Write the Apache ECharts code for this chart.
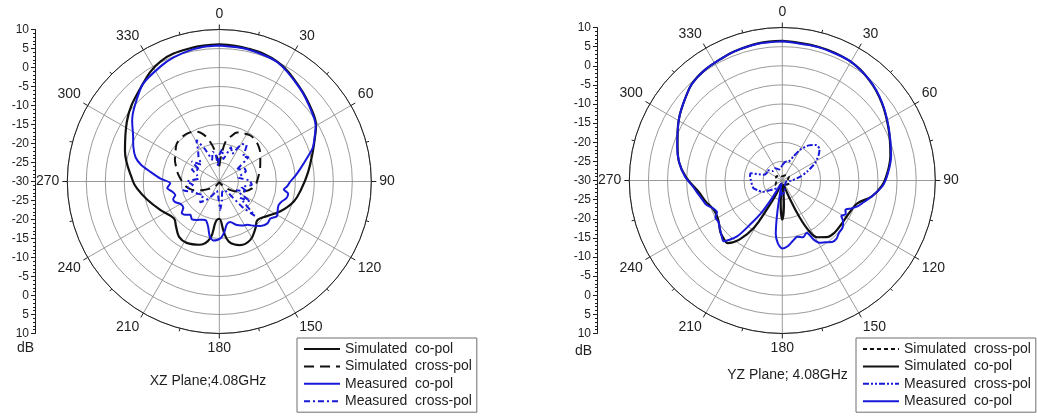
<!DOCTYPE html>
<html>
<head>
<meta charset="utf-8">
<script src="https://cdn.jsdelivr.net/npm/echarts@6.0.0/dist/echarts.min.js"></script>
<style>
  html, body { margin: 0; padding: 0; background: #fff; }
  #xz { position: absolute; left: 0; top: 0; width: 520px; height: 417px; }
  #yz { position: absolute; left: 520px; top: 0; width: 517px; height: 417px; }
</style>
</head>
<body>
<div id="xz"></div>
<div id="yz"></div>
<script>
// dB scale printed beside each polar plot (top -> centre -> bottom)
const dbLabels = ['10','5','0','-5','-10','-15','-20','-25','-30','-25','-20','-15','-10','-5','0','5','10'];

// Series names
const NAMES = {
  simCo: 'Simulated  co-pol',
  simCross: 'Simulated  cross-pol',
  measCo: 'Measured  co-pol',
  measCross: 'Measured  cross-pol'
};

// ---------- XZ plane, 4.08 GHz : [angle (deg), gain (dB)] ----------
const xzSimCo = [[0,6.1],[12,5.8],[26,5.0],[41,2.5],[52,0.8],[60,-0.6],[64,-1.9],[72,-4.1],[84,-6.5],[95,-8.3],[105,-9.7],[116,-12.1],[126,-14.5],[136,-15.7],[142,-14.5],[152,-12.6],[162,-12.4],[171,-14.0],[175,-16.8],[180,-20.2],[185,-19.4],[189,-14.9],[197,-12.6],[208,-11.7],[216,-12.0],[224,-13.6],[231,-14.6],[244,-12.8],[256,-10.4],[265,-8.3],[270,-7.3],[288,-3.9],[303,-1.0],[320,2.2],[334,5.2],[348,5.9],[360,6.1]];

const xzSimCross = [[0,-26],[5,-22.5],[10,-18.8],[15,-17.6],[20,-16.3],[27,-15.8],[34,-15.4],[41,-15.6],[48,-16.1],[56,-17.0],[64,-18.0],[73,-18.8],[85,-19.8],[95,-20.4],[102,-21.2],[110,-22.6],[120,-24.7],[130,-26.8],[140,-28.5],[155,-29.5],[180,-29.8],[205,-29.5],[220,-28.5],[232,-27.0],[242,-25.3],[250,-23.2],[258,-21.7],[265,-20.7],[270,-20.2],[280,-19.0],[288,-18.1],[296,-17.0],[302,-16.4],[310,-15.2],[318,-14.8],[326,-14.8],[334,-15.4],[340,-16.5],[346,-18.8],[352,-22.0],[360,-26]];

const xzMeasCo = [[0,5.8],[12,5.6],[26,4.9],[41,2.4],[52,0.6],[60,-0.7],[64,-2.0],[70,-3.8],[75,-6.1],[81,-8.4],[86,-10.0],[90,-11.3],[94,-12.1],[97,-12.9],[100,-11.6],[104,-11.8],[108,-12.8],[112,-13.2],[116,-12.9],[121,-12.3],[126,-13.4],[131,-13.2],[137,-14.0],[142,-15.2],[147,-16.4],[153,-17.0],[159,-17.8],[165,-19.0],[170,-18.6],[174,-16.8],[178,-15.2],[182,-14.6],[186,-14.4],[190,-15.4],[194,-17.8],[199,-19.2],[204,-19.0],[210,-18.3],[216,-17.7],[221,-18.4],[226,-17.4],[230,-17.1],[234,-18.3],[240,-18.2],[245,-17.2],[249,-17.0],[253,-17.9],[258,-17.3],[263,-16.2],[268,-17.1],[273,-14.4],[278,-11.7],[282,-9.0],[286,-7.1],[292,-5.6],[298,-4.3],[305,-2.0],[312,-0.1],[322,2.6],[333,4.0],[340,4.8],[348,5.4],[355,5.7],[360,5.8]];

const xzMeasCross = [[0,-23],[5,-21.5],[10,-24],[19,-20.5],[25,-22],[31,-18.5],[37,-18],[44,-21],[50,-20],[56,-24.5],[63,-22.5],[69,-22.5],[78,-25],[88,-22],[96,-21.4],[104,-24],[110,-22.2],[117,-25],[123,-20.3],[128,-23],[134,-17],[138,-21],[143,-26.6],[155,-27.5],[166,-27],[172,-25],[178,-22.5],[184,-26],[195,-27.5],[206,-26],[215,-24],[223,-22.5],[230,-24.5],[240,-23.5],[248,-22.7],[256,-20.3],[263,-23],[270,-21.5],[278,-24.5],[286,-23.9],[294,-22],[300,-24],[306,-21],[313,-23.5],[320,-21.5],[326,-20],[331,-17.5],[336,-20.5],[342,-24],[347,-22],[352,-22.5],[356,-26],[360,-23]];

// ---------- YZ plane, 4.08 GHz : [angle (deg), gain (dB)] ----------
const yzSimCross = [[0,-29],[30,-28.4],[60,-28.0],[90,-28.6],[120,-28.2],[150,-28.8],[180,-29.2],[210,-28.4],[240,-28.0],[270,-28.5],[300,-28.1],[330,-28.6],[360,-29]];

const yzSimCo = [[0,6.5],[15,6.2],[29,5.9],[41,4.7],[52,3.0],[64,0.9],[77,-1.0],[86,-2.5],[93,-3.9],[100,-6.2],[107,-9.5],[115,-10.5],[125,-10.8],[135,-10.7],[142,-11.2],[148,-12.5],[152,-15.0],[155,-19.7],[158,-25.5],[164,-29],[172,-28],[176,-24],[180,-19.8],[184,-24],[188,-28],[198,-29],[204,-26],[208,-21.5],[211,-15.5],[216,-10.9],[221,-8.3],[226,-8.5],[230,-8.9],[238,-10.3],[243,-10.6],[248,-10.4],[255,-9.2],[262,-8.0],[272,-4.8],[280,-2.6],[288,-1.2],[295,0.2],[302,1.7],[310,3.2],[317,4.6],[325,5.3],[333,5.6],[340,6.0],[350,6.4],[360,6.5]];

const yzMeasCross = [[0,-26],[10,-25],[18,-24.8],[25,-23],[30,-20.8],[37,-18.5],[44,-17.1],[50,-17.3],[55,-18.4],[62,-20.3],[70,-23],[78,-25.2],[90,-27.5],[110,-29],[150,-28.5],[170,-27],[180,-26],[200,-28],[231,-26],[240,-24],[249,-23],[255,-22.2],[262,-22],[270,-21.8],[277,-21.5],[283,-21.5],[287,-24.9],[295,-25.5],[304,-25.2],[315,-26.5],[330,-26.3],[345,-27],[360,-26]];

const yzMeasCo = [[0,6.4],[15,6.1],[29,5.9],[41,4.8],[52,3.1],[64,1.0],[77,-0.8],[86,-2.3],[93,-3.7],[100,-6.2],[105,-8.0],[109,-9.2],[112,-10.5],[115,-11.8],[118,-11.2],[121,-12.0],[124,-10.8],[128,-10.0],[133,-9.8],[137,-9.2],[141,-9.3],[145,-10.3],[149,-11.0],[152,-12.5],[155,-14.9],[160,-14.2],[165,-14.8],[170,-14.0],[175,-12.8],[180,-12.2],[184,-13.5],[187,-16.0],[189,-22],[191,-28],[198,-29.2],[206,-28.5],[210,-25],[213,-20],[216,-16],[219,-11.2],[224,-7.9],[228,-8.6],[233,-9.5],[237,-10.1],[241,-10.0],[244,-11.0],[248,-10.5],[252,-9.2],[256,-8.6],[260,-7.9],[266,-6.6],[272,-4.6],[280,-2.6],[288,-1.1],[295,0.2],[302,1.7],[310,3.2],[317,4.6],[325,5.3],[333,5.6],[340,6.0],[350,6.3],[360,6.4]];

// ---------- styling ----------
const FONT = '"Liberation Sans", Arial, sans-serif';
const INK = '#1e1e1e';
const GRID = '#8e8e8e';
const BLACK = '#111111';
const BLUE = '#1818d8';

// polar data is [radius, angle]
const toPolar = pairs => pairs.map(p => [p[1], p[0]]);

function curve(name, pairs, color, dash, width, smooth) {
  return {
    type: 'line',
    name: name,
    coordinateSystem: 'polar',
    data: toPolar(pairs),
    symbol: 'none',
    smooth: smooth,
    lineStyle: { color: color, width: width, type: dash },
    itemStyle: { color: color },
    silent: true,
    z: 3
  };
}

function buildOption(p) {
  return {
    animation: false,
    backgroundColor: '#ffffff',
    polar: { center: [p.cx, p.cy], radius: p.r },
    angleAxis: {
      type: 'value', min: 0, max: 360, interval: 30,
      startAngle: 90, clockwise: true,
      axisLine: { show: true, lineStyle: { color: INK, width: 1 } },
      axisTick: { show: true, inside: false, length: 5, lineStyle: { color: INK, width: 1 } },
      minorTick: { show: true, splitNumber: 2, length: 3, lineStyle: { color: INK, width: 1 } },
      splitLine: { show: true, lineStyle: { color: GRID, width: 0.9 } },
      axisLabel: {
        margin: 8, fontSize: 14, color: INK, fontFamily: FONT,
        formatter: v => (v === 360 ? '' : String(v))
      }
    },
    radiusAxis: {
      type: 'value', min: -30, max: 10, interval: 5,
      axisLine: { show: false }, axisTick: { show: false }, axisLabel: { show: false },
      splitLine: { show: true, lineStyle: { color: GRID, width: 0.9 } }
    },
    grid: { left: p.axisX, top: p.cy - p.r, width: 1, height: 2 * p.r },
    xAxis: { type: 'value', show: false },
    yAxis: {
      type: 'value', min: 0, max: 80, interval: 5,
      axisLine: { show: true, lineStyle: { color: INK, width: 1 } },
      axisTick: { show: true, inside: false, length: 4, lineStyle: { color: INK } },
      minorTick: { show: true, splitNumber: 5, length: 2, lineStyle: { color: INK } },
      splitLine: { show: false },
      axisLabel: {
        margin: 6, fontSize: 12, color: INK, fontFamily: FONT,
        formatter: v => dbLabels[Math.round(v / 5)]
      }
    },
    legend: {
      orient: 'vertical',
      left: p.legendX, top: p.legendY,
      itemWidth: 36, itemHeight: 14, itemGap: 3.4,
      padding: [4, 5, 4, 6],
      borderColor: '#6e6e6e', borderWidth: 1,
      selectedMode: false,
      itemStyle: { opacity: 0, borderWidth: 0 },
      textStyle: { fontSize: 14, color: INK, fontFamily: FONT, lineHeight: 14 },
      data: p.legendOrder
    },
    graphic: [
      {
        type: 'text', left: p.dbX, top: p.dbY,
        style: { text: 'dB', font: '14px ' + FONT, fill: INK }
      },
      {
        type: 'text', x: p.titleX, y: p.titleY,
        style: { text: p.title, font: '14px ' + FONT, fill: INK, align: 'center', verticalAlign: 'middle' }
      }
    ],
    series: p.series
  };
}

const xzChart = echarts.init(document.getElementById('xz'), null, { renderer: 'canvas' });
xzChart.setOption(buildOption({
  cx: 219.3, cy: 181.5, r: 152,
  axisX: 35,
  legendX: 297, legendY: 338,
  dbX: 17, dbY: 341,
  titleX: 208, titleY: 381.5,
  title: 'XZ Plane;4.08GHz',
  legendOrder: [NAMES.simCo, NAMES.simCross, NAMES.measCo, NAMES.measCross],
  series: [
    curve(NAMES.simCo, xzSimCo, BLACK, 'solid', 2.2, 0.4),
    curve(NAMES.simCross, xzSimCross, BLACK, [10, 6], 2, 0.4),
    curve(NAMES.measCo, xzMeasCo, BLUE, 'solid', 2, 0.25),
    curve(NAMES.measCross, xzMeasCross, BLUE, [6, 3, 2, 3], 2, 0.1)
  ]
}));

const yzChart = echarts.init(document.getElementById('yz'), null, { renderer: 'canvas' });
yzChart.setOption(buildOption({
  cx: 262.3, cy: 180.5, r: 153,
  axisX: 77,
  legendX: 336, legendY: 338,
  dbX: 55, dbY: 344,
  titleX: 267.5, titleY: 375,
  title: 'YZ Plane; 4.08GHz',
  legendOrder: [NAMES.simCross, NAMES.simCo, NAMES.measCross, NAMES.measCo],
  series: [
    curve(NAMES.simCross, yzSimCross, BLACK, [4, 3], 2, 0.4),
    curve(NAMES.simCo, yzSimCo, BLACK, 'solid', 2.2, 0.4),
    curve(NAMES.measCross, yzMeasCross, BLUE, [6, 2, 2, 2, 2, 2], 2, 0.2),
    curve(NAMES.measCo, yzMeasCo, BLUE, 'solid', 2, 0.25)
  ]
}));
</script>
</body>
</html>
